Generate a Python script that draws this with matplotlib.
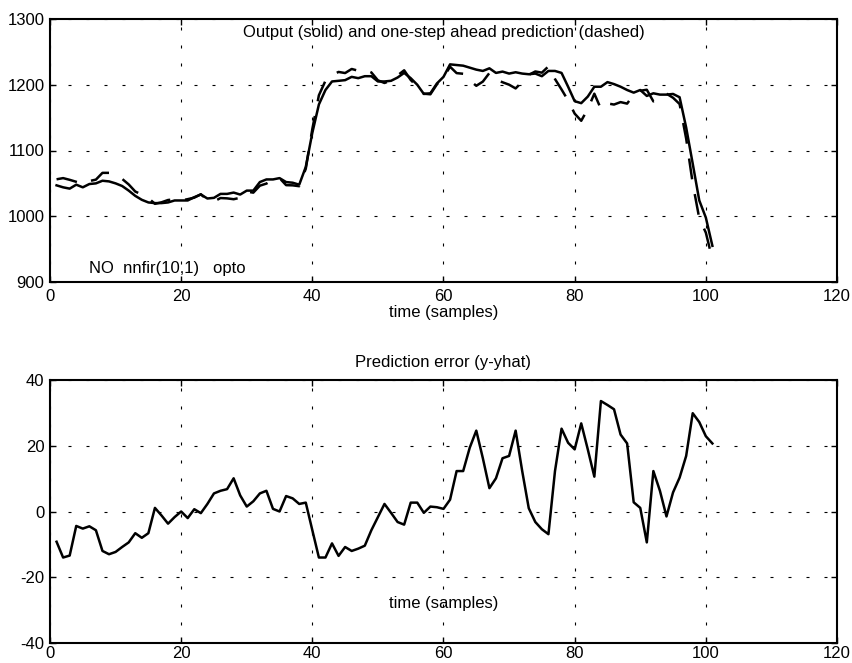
# encoding:utf-8
# 输出与一步预测 / 预测误差
import matplotlib
matplotlib.use('Agg')
from matplotlib import pyplot as plt

plt.rcParams['font.family'] = ['Liberation Sans', 'DejaVu Sans']
plt.rcParams['axes.unicode_minus'] = False

# 样本序号
t = list(range(1, 102))

# 实际输出 y (实线)
y = [1047, 1044, 1042, 1048, 1044, 1049, 1050, 1054, 1053, 1050,
     1046, 1039, 1031, 1025, 1021, 1020, 1020, 1021, 1024, 1024,
     1024, 1029, 1033, 1027, 1028, 1034, 1034, 1036, 1033, 1039,
     1039, 1052, 1056, 1056, 1058, 1052, 1051, 1048, 1075, 1127,
     1170, 1192, 1205, 1206, 1207, 1212, 1210, 1213, 1213, 1205,
     1205, 1206, 1211, 1218, 1210, 1200, 1186, 1187, 1202, 1212,
     1231, 1230, 1229, 1226, 1223, 1221, 1225, 1218, 1220, 1217,
     1219, 1217, 1216, 1217, 1213, 1221, 1221, 1218, 1197, 1175,
     1172, 1182, 1197, 1197, 1204, 1201, 1197, 1192, 1188, 1192,
     1183, 1187, 1185, 1185, 1186, 1181, 1135, 1080, 1024, 998,
     955]

# 一步预测 yhat (虚线)
yhat = [1056.2, 1058.0, 1055.4, 1052.4, 1049.2, 1053.5, 1055.7, 1066.0, 1066.0, 1062.3,
        1056.8, 1048.4, 1037.6, 1033.0, 1027.6, 1018.9, 1021.2, 1024.7, 1025.7, 1024.0,
        1026.0, 1028.3, 1033.5, 1024.7, 1022.5, 1027.7, 1027.2, 1025.9, 1028.1, 1037.5,
        1035.9, 1046.5, 1049.7, 1055.2, 1058.0, 1047.3, 1047.0, 1045.7, 1072.3, 1132.7,
        1184.0, 1206.0, 1214.7, 1219.5, 1217.8, 1224.0, 1221.3, 1223.4, 1218.7, 1206.7,
        1202.7, 1206.4, 1214.2, 1222.0, 1207.3, 1197.3, 1186.4, 1185.5, 1200.7, 1211.2,
        1227.4, 1217.7, 1216.7, 1206.6, 1198.4, 1204.8, 1217.9, 1207.9, 1203.8, 1200.1,
        1194.4, 1204.7, 1215.0, 1220.2, 1218.4, 1227.9, 1208.7, 1192.8, 1176.1, 1156.1,
        1145.2, 1163.1, 1186.4, 1163.4, 1171.6, 1169.9, 1173.6, 1171.3, 1185.2, 1190.9,
        1192.4, 1174.7, 1178.7, 1186.5, 1180.2, 1170.7, 1118.1, 1050.1, 996.8, 975.1,
        934.3]

# 预测误差 y - yhat
err = [-9.2, -14.0, -13.4, -4.4, -5.2, -4.5, -5.7, -12.0, -13.0, -12.3,
       -10.8, -9.4, -6.6, -8.0, -6.6, 1.1, -1.2, -3.7, -1.7, 0.0,
       -2.0, 0.7, -0.5, 2.3, 5.5, 6.3, 6.8, 10.1, 4.9, 1.5,
       3.1, 5.5, 6.3, 0.8, 0.0, 4.7, 4.0, 2.3, 2.7, -5.7,
       -14.0, -14.0, -9.7, -13.5, -10.8, -12.0, -11.3, -10.4, -5.7, -1.7,
       2.3, -0.4, -3.2, -4.0, 2.7, 2.7, -0.4, 1.5, 1.3, 0.8,
       3.6, 12.3, 12.3, 19.4, 24.6, 16.2, 7.1, 10.1, 16.2, 16.9,
       24.6, 12.3, 1.0, -3.2, -5.4, -6.9, 12.3, 25.2, 20.9, 18.9,
       26.8, 18.9, 10.6, 33.6, 32.4, 31.1, 23.4, 20.7, 2.8, 1.1,
       -9.4, 12.3, 6.3, -1.5, 5.8, 10.3, 16.9, 29.9, 27.2, 22.9,
       20.7]

fig = plt.figure(figsize=(8.53, 6.63), dpi=100)
W, H = 853.0, 663.0
ax1 = fig.add_axes([50 / W, 1 - 282 / H, 787 / W, 263 / H])
ax2 = fig.add_axes([50 / W, 1 - 643 / H, 787 / W, 263 / H])

grid_style = dict(color='black', linestyle=(0, (2.7, 13.5)), linewidth=0.8)
fs = 12

# 上图: 输出和预测
ax1.plot(t, y, color='black', linewidth=1.8)
ax1.plot(t, yhat, color='black', linewidth=1.8, linestyle=(0, (8.4, 6)))
ax1.set_xlim(0, 120)
ax1.set_ylim(900, 1300)
ax1.set_xticks([0, 20, 40, 60, 80, 100, 120])
ax1.set_yticks([900, 1000, 1100, 1200, 1300])
ax1.text(0.5, 0.947, 'Output (solid) and one-step ahead prediction (dashed)',
         transform=ax1.transAxes, ha='center', va='center', fontsize=fs)
ax1.text(0.5, -0.115, 'time (samples)', transform=ax1.transAxes,
         ha='center', va='center', fontsize=fs)
ax1.text(6, 913, 'NO  nnfir(10,1)   opto', ha='left', va='baseline', fontsize=fs)

# 下图: 预测误差
ax2.plot(t, err, color='black', linewidth=1.8)
ax2.set_xlim(0, 120)
ax2.set_ylim(-40, 40)
ax2.set_xticks([0, 20, 40, 60, 80, 100, 120])
ax2.set_yticks([-40, -20, 0, 20, 40])
ax2.text(0.5, 1.065, 'Prediction error (y-yhat)', transform=ax2.transAxes,
         ha='center', va='center', fontsize=fs)
ax2.text(0.5, 0.151, 'time (samples)', transform=ax2.transAxes,
         ha='center', va='center', fontsize=fs)

for ax in (ax1, ax2):
    ax.grid(True, **grid_style)
    ax.tick_params(axis='both', direction='in', top=True, right=True,
                   length=4, width=1, labelsize=fs)
    ax.tick_params(axis='y', pad=4)
    for s in ax.spines.values():
        s.set_linewidth(1.5)
ax1.tick_params(axis='x', pad=5)
ax2.tick_params(axis='x', pad=2)

plt.savefig('out.png', dpi=100)
